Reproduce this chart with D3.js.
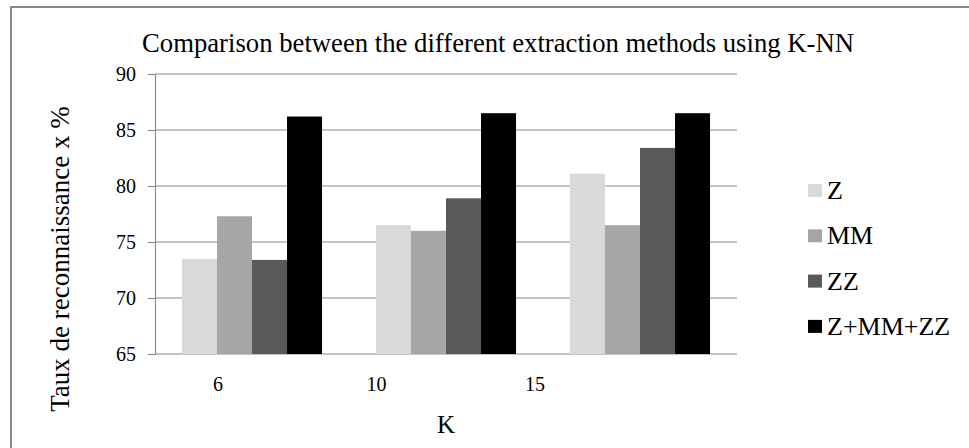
<!DOCTYPE html>
<html><head><meta charset="utf-8">
<script src="https://cdn.jsdelivr.net/npm/d3@7"></script>
<style>body{margin:0;background:#fff}svg{display:block}svg text{font-family:'Liberation Serif',serif !important;fill:#000}</style>
</head><body><svg id="c" width="969" height="448"></svg>
<script>
const categories = ["6", "10", "15"];
const seriesNames = ["Z", "MM", "ZZ", "Z+MM+ZZ"];
const Z = [73.5, 76.5, 81.1];
const MM = [77.3, 76.0, 76.5];
const ZZ = [73.4, 78.9, 83.4];
const ALL = [86.2, 86.5, 86.5];
const yTicks = [65, 70, 75, 80, 85, 90];
const colors = ["#d9d9d9", "#a6a6a6", "#595959", "#000000"];
const series = [Z, MM, ZZ, ALL];

(function () {
const FONT = "'Liberation Serif', serif";
const svg = d3.select("#c");
svg.append("path").attr("d", "M11,448 L11,7 L969,7").attr("fill", "none").attr("stroke", "#898989").attr("stroke-width", 2);

const pL = 155, pR = 737, pT = 74, pB = 354;
const x = d3.scaleBand().domain(categories).range([pL, pR]).paddingInner(0.278).paddingOuter(0.139);
const xs = d3.scaleBand().domain(seriesNames).range([0, x.bandwidth()]);
const y = d3.scaleLinear().domain([65, 90]).range([pB, pT]);

svg.append("g").selectAll("line").data(yTicks).join("line")
  .attr("x1", pL).attr("x2", pR).attr("y1", d => y(d)).attr("y2", d => y(d))
  .attr("stroke", "#8c8c8c").attr("stroke-width", 1.2);

const g = svg.append("g");
series.forEach((vals, si) => {
  g.selectAll(null).data(vals).join("rect")
    .attr("x", (d, i) => x(categories[i]) + xs(seriesNames[si]))
    .attr("width", xs.bandwidth())
    .attr("y", d => y(d))
    .attr("height", d => y(65) - y(d))
    .attr("fill", colors[si]);
});

const ya = svg.append("g").attr("transform", `translate(${pL},0)`)
  .call(d3.axisLeft(y).tickValues(yTicks).tickSize(7).tickPadding(12).tickSizeOuter(0));
ya.attr("font-family", FONT);
ya.select(".domain").attr("stroke", "#8c8c8c").attr("stroke-width", 1.2);
ya.selectAll(".tick line").attr("stroke", "#8c8c8c").attr("stroke-width", 1.2);
ya.selectAll("text").attr("font-size", 20).style("font-family", FONT).attr("fill", "#000");

const xl = d3.scalePoint().domain(categories).range([218, 535]);
svg.append("g").selectAll("text").data(categories).join("text")
  .attr("x", d => xl(d)).attr("y", 391).attr("text-anchor", "middle")
  .attr("font-size", 20).style("font-family", FONT).text(d => d);

svg.append("text").attr("x", 142).attr("y", 52).attr("font-size", 27).style("font-family", FONT)
  .attr("textLength", 712).attr("lengthAdjust", "spacingAndGlyphs")
  .text("Comparison between the different extraction methods using K-NN");
svg.append("text").attr("x", 446).attr("y", 433).attr("text-anchor", "middle").attr("font-size", 25).style("font-family", FONT).text("K");
svg.append("text").attr("transform", "translate(69,259) rotate(-90)").attr("text-anchor", "middle").attr("font-size", 27).style("font-family", FONT)
  .text("Taux de reconnaissance x %");

const lg = svg.append("g").selectAll("g").data(seriesNames).join("g")
  .attr("transform", (d, i) => `translate(808,${184 + i * 45.3})`);
lg.append("rect").attr("width", 14).attr("height", 13).attr("fill", (d, i) => colors[i]);
lg.append("text").attr("x", 19).attr("y", 15).attr("font-size", 26).style("font-family", FONT).text(d => d);
})();
</script></body></html>
